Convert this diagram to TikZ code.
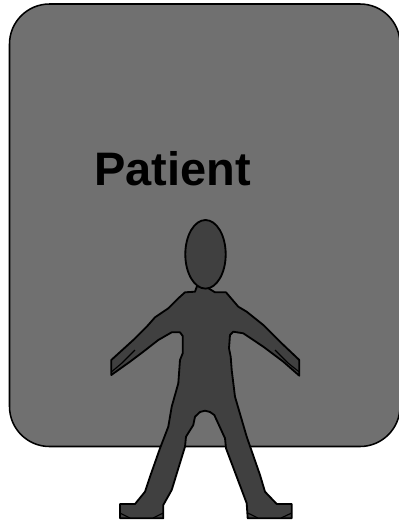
\documentclass[tikz,border=0pt]{standalone}
\usepackage{fontspec}
\setmainfont{Liberation Sans}
\usepackage{xcolor}
\definecolor{roomgray}{RGB}{112,112,112}
\definecolor{bodygray}{RGB}{64,64,64}
\begin{document}
\begin{tikzpicture}[x=0.025cm,y=-0.025cm,line join=round,
    room/.style={draw=black, line width=1.1pt, fill=roomgray},
    figure/.style={draw=black, line width=1.3pt, fill=bodygray},
    crease/.style={draw=black, line width=0.8pt}]
    \useasboundingbox (0,0) rectangle (399,521);
    % backdrop
    \draw[room] (9.5,44) arc[start angle=180,end angle=90,x radius=40,y radius=-40]
        -- (360,4) arc[start angle=90,end angle=0,x radius=40,y radius=-40]
        -- (400,406.5) arc[start angle=0,end angle=-90,x radius=40,y radius=-40]
        -- (49.5,446.5) arc[start angle=-90,end angle=-180,x radius=40,y radius=-40] -- cycle;
    \node[font=\bfseries\fontsize{33.4}{36}\selectfont, inner sep=0pt] (lbl) at (172.5,169) {Patient};
    % body
    \draw[figure] (197,286) -- (195,291.7) -- (185,292.3) -- (178.3,298.3) -- (168.3,308.3)
        -- (155,317.3) -- (146.7,326.7) -- (133.3,340) -- (111.3,360) -- (111.3,375)
        -- (130,361.7) -- (143.3,351.7) -- (158.3,340) -- (171.7,332.3) -- (180,332.3)
        -- (182.7,336) -- (182.7,353.3) -- (180,360) -- (178.3,383.3) -- (171.7,406.7)
        -- (168.3,426.7) -- (160,448.3) -- (150,476.7) -- (145,491.7) -- (135,504)
        -- (120,504) -- (120,518.3) -- (163.3,518.3) -- (163.3,505) -- (171.7,490)
        -- (185,446.7) -- (186,436.7) -- (193.3,425) -- (195,416.7) -- (200,412)
        -- (205,410.7) -- (210,412) -- (214.3,415) -- (225,438.3) -- (226,448.3)
        -- (236.7,476.7) -- (246.7,503.3) -- (247.7,518.3) -- (291.7,518.3) -- (291.7,504)
        -- (276.7,504) -- (265,491.7) -- (260,475) -- (246.7,436.7) -- (235,396.7)
        -- (231.7,370) -- (230.7,356.7) -- (229,348.3) -- (230,335) -- (233.3,331.7)
        -- (243.3,333.3) -- (263.3,346.7) -- (283.3,361.7) -- (299.3,375.7) -- (299.3,360)
        -- (280,341.7) -- (263.3,325) -- (246.7,311.7) -- (238.3,306.7) -- (226,292.3)
        -- (215,292.3) -- (208,288) -- cycle;
    % creases at the hands and feet
    \draw[crease] (111.3,372) -- (122,363) -- (135,350);
    \draw[crease] (299.3,372) -- (288,363) -- (275,350);
    \draw[crease] (120,513) -- (130,518) (163.3,513) -- (153,518);
    \draw[crease] (247.7,513) -- (258,518) (291.7,513) -- (281,518);
    % head
    \draw[figure] (205.5,254.3) ellipse[x radius=20.2,y radius=34.3];
\end{tikzpicture}
\end{document}
